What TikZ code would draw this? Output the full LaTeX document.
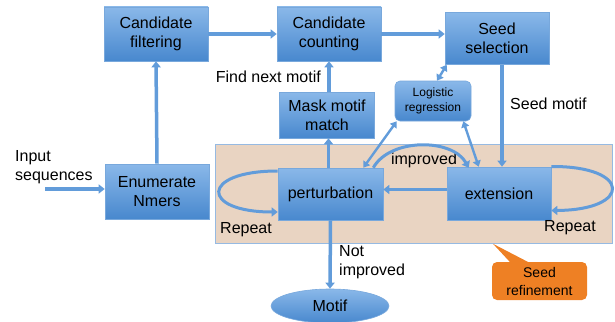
\documentclass[tikz,border=0pt]{standalone}
\usepackage{fontspec}
\setmainfont{Liberation Sans}
\usetikzlibrary{arrows.meta,shapes.geometric,positioning}
\definecolor{boxtop}{RGB}{138,184,233}
\definecolor{boxbot}{RGB}{72,136,206}
\definecolor{boxedge}{RGB}{120,168,220}
\definecolor{flowblue}{RGB}{98,156,218}
\definecolor{regionfill}{RGB}{233,212,194}
\definecolor{regionedge}{RGB}{150,186,226}
\definecolor{calloutorange}{RGB}{238,128,36}

\begin{document}
\begin{tikzpicture}[x=1pt,y=-1pt,
    stage/.style={draw=boxedge, line width=0.6pt, top color=boxtop, bottom color=boxbot,
        minimum width=104pt, minimum height=54pt, inner sep=0pt, align=center,
        font=\fontsize{16}{19}\selectfont},
    flow/.style={draw=flowblue, line width=3.5pt, -{Triangle[length=6pt,width=9pt]}},
    twoway/.style={draw=flowblue, line width=2.4pt,
        {Triangle[length=6pt,width=8pt]}-{Triangle[length=6pt,width=8pt]}},
    lbl/.style={inner sep=0pt, align=left, font=\fontsize{16}{19}\selectfont}]
    \useasboundingbox (0,0) rectangle (615,321);

    % Refinement region (drawn first, behind everything)
    \node[draw=regionedge, line width=1pt, fill=regionfill, minimum width=397pt,
        minimum height=99pt, inner sep=0pt] (region) at (413.5,193.5) {};

    % Top row
    \node[stage] (filt) at (156,34) {Candidate\\filtering};
    \node[stage] (count) at (329,34) {Candidate\\counting};
    \node[stage, minimum height=52pt] (seed) at (497,38.5) {Seed\\selection};
    \node[stage, minimum width=95pt, minimum height=46pt] (mask) at (327,115) {Mask motif\\match};
    \node[stage, rounded corners=5pt, minimum width=76pt, minimum height=40pt,
        font=\fontsize{12}{15}\selectfont] (logit) at (433,101) {Logistic\\regression};

    % Middle row
    \node[stage, minimum height=55pt] (enum) at (157,191.5) {Enumerate\\Nmers};
    \node[stage, minimum width=105pt, minimum height=52pt] (pert) at (330.5,194) {perturbation};
    \node[stage, minimum height=53pt] (ext) at (499,193.5) {extension};

    % Output
    \node[stage, shape=ellipse, minimum width=118pt, minimum height=34pt] (motif) at (330,306) {Motif};

    % Labels
    \node[lbl] (input) at (15,167.5) [anchor=west] {Input\\sequences};
    \node[lbl, anchor=east] (next) at (321,77) {Find next motif};
    \node[lbl, anchor=west] (seedlbl) at (510,104) {Seed motif};
    \node[lbl] (impr) at (424,160) {improved};
    \node[lbl, anchor=west] (notimpr) at (339,262.5) {Not\\improved};
    \node[lbl] (repl) at (246,230) {Repeat};
    \node[lbl] (repr) at (570,228) {Repeat};

    % Callout
    \node[fill=calloutorange, rounded corners=5pt, minimum width=95pt, minimum height=38pt,
        inner sep=0pt, align=center, font=\fontsize{14}{18}\selectfont] (refine) at (539.5,281) {Seed\\refinement};
    \fill[calloutorange] ([xshift=-27pt,yshift=-3pt]refine.north) -- ([shift={(-46.5,-18)}]refine.north)
        -- ([xshift=-6pt,yshift=-3pt]refine.north) -- cycle;

    % Main flow
    \coordinate (instart) at (45,189);
    \draw[flow] (instart) -- (instart -| enum.west);
    \draw[flow] (enum.north) -- (filt.south);
    \draw[flow] (filt.east) -- (count.west);
    \draw[flow] (count.east) -- (count.east -| seed.west);
    \draw[flow] ([xshift=2pt]mask.north) -- ([xshift=2pt]mask.north |- count.south);
    \draw[flow] ([xshift=-2pt]pert.north) -- ([xshift=-2pt]pert.north |- mask.south);
    \draw[flow] ([xshift=5pt]seed.south) -- ([xshift=5pt]seed.south |- ext.north);
    \draw[flow] ([yshift=4pt]ext.west) -- ([yshift=4pt]ext.west -| pert.east);
    \draw[flow] (pert.south) -- (motif.north);

    % Logistic regression links
    \draw[twoway] ([xshift=4pt]logit.north) -- ([xshift=2pt]seed.south west);
    \draw[twoway] ([xshift=2pt]logit.south west) -- ([xshift=-20pt]pert.north east);
    \draw[twoway] ([xshift=-8pt]logit.south east) -- ([xshift=32pt]ext.north west);

    % improved arc
    \draw[flow, line width=3pt] ([xshift=-10pt]pert.north east) .. controls (390,138) and (452,138) .. ([xshift=22pt,yshift=-1pt]ext.north west);

    % Repeat loops
    \draw[flow, line width=3pt] ([yshift=23pt]pert.west) .. controls (200,171) and (200,212) .. ([yshift=-18pt]pert.west);
    \draw[flow, line width=3pt] ([yshift=27pt]ext.east) .. controls (632,166) and (632,210) .. ([yshift=-17pt]ext.east);
\end{tikzpicture}
\end{document}
